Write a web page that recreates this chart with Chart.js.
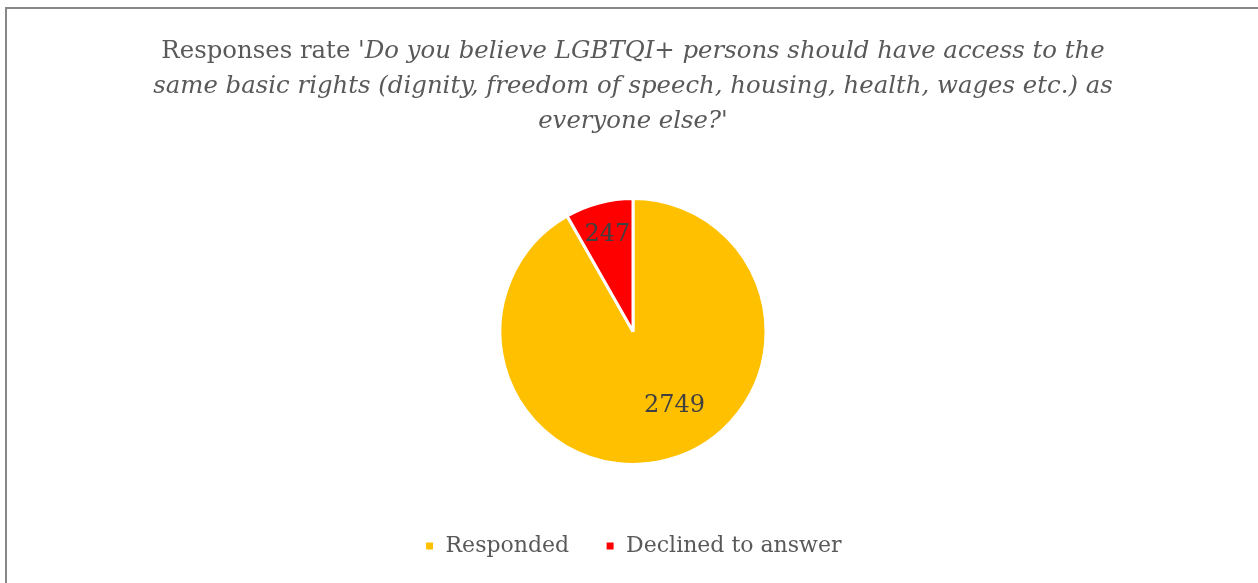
<!DOCTYPE html>
<html>
<head>
<meta charset="utf-8">
<script src="https://cdn.jsdelivr.net/npm/chart.js@4/dist/chart.umd.min.js"></script>
<style>
  html, body { margin: 0; padding: 0; background: #fff; }
  #wrap { position: relative; width: 1258px; height: 583px; overflow: hidden; }
  #frame { position: absolute; left: 5px; top: 7px; width: 1300px; height: 700px; border: 2px solid #888; box-sizing: border-box; }
  #title { position: absolute; left: 0; top: 32px; width: 1266px; text-align: center; font-family: "DejaVu Serif", serif; font-size: 24.4px; line-height: 35px; color: #595959; }
  #title i { font-style: italic; }
  canvas { position: absolute; left: 0; top: 0; }
</style>
</head>
<body>
<div id="wrap">
  <div id="frame"></div>
  <canvas id="c" width="1258" height="583"></canvas>
  <div id="title">Responses rate '<i>Do you believe LGBTQI+ persons should have access to the<br>same basic rights (dignity, freedom of speech, housing, health, wages etc.) as<br>everyone else?'</i></div>
</div>
<script>
const categories = ["Responded", "Declined to answer"];
const values = [2749, 247];
const colors = ["#FFC000", "#FF0000"];

const labelPlugin = {
  id: 'sliceLabels',
  afterDatasetsDraw(chart) {
    const ctx = chart.ctx;
    const meta = chart.getDatasetMeta(0);
    const offsets = [[16, -22], [0, 0]];
    ctx.save();
    ctx.font = '24px "DejaVu Serif", serif';
    ctx.fillStyle = '#404040';
    ctx.textAlign = 'center';
    ctx.textBaseline = 'middle';
    meta.data.forEach((arc, i) => {
      const p = arc.getProps(['x', 'y', 'startAngle', 'endAngle', 'outerRadius']);
      const mid = (p.startAngle + p.endAngle) / 2;
      const r = p.outerRadius * 0.75;
      const x = p.x + Math.cos(mid) * r + offsets[i][0];
      const y = p.y + Math.sin(mid) * r + offsets[i][1];
      ctx.fillText(String(values[i]), x, y);
    });
    ctx.restore();
  }
};

new Chart(document.getElementById('c'), {
  type: 'pie',
  data: {
    labels: categories,
    datasets: [{
      data: values,
      backgroundColor: colors,
      borderColor: '#ffffff',
      borderWidth: 3,
      radius: 133
    }]
  },
  options: {
    responsive: false,
    animation: false,
    layout: { padding: { top: 164, left: 8, right: 0, bottom: 16 } },
    plugins: {
      title: { display: false },
      tooltip: { enabled: false },
      legend: {
        position: 'bottom',
        labels: {
          boxWidth: 10,
          boxHeight: 10,
          padding: 36,
          color: '#595959',
          font: { family: '"DejaVu Serif", serif', size: 22 }
        }
      }
    }
  },
  plugins: [labelPlugin]
});
</script>
</body>
</html>
